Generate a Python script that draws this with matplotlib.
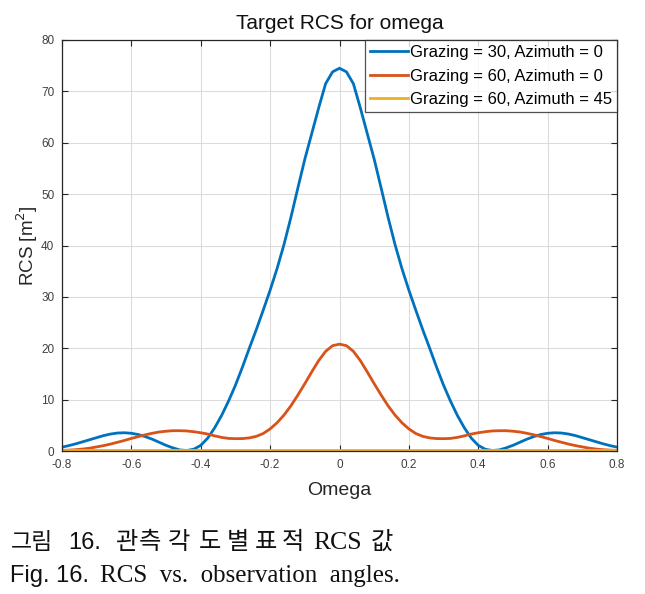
import matplotlib
matplotlib.use("Agg")
import matplotlib.pyplot as plt

# ---- data ----
omega = [-0.80, -0.78, -0.76, -0.74, -0.72, -0.70, -0.68, -0.66, -0.64, -0.62,
         -0.60, -0.58, -0.56, -0.54, -0.52, -0.50, -0.48, -0.46, -0.44, -0.42,
         -0.40, -0.38, -0.36, -0.34, -0.32, -0.30, -0.28, -0.26, -0.24, -0.22,
         -0.20, -0.18, -0.16, -0.14, -0.12, -0.10, -0.08, -0.06, -0.04, -0.02,
         0.00, 0.02, 0.04, 0.06, 0.08, 0.10, 0.12, 0.14, 0.16, 0.18,
         0.20, 0.22, 0.24, 0.26, 0.28, 0.30, 0.32, 0.34, 0.36, 0.38,
         0.40, 0.42, 0.44, 0.46, 0.48, 0.50, 0.52, 0.54, 0.56, 0.58,
         0.60, 0.62, 0.64, 0.66, 0.68, 0.70, 0.72, 0.74, 0.76, 0.78, 0.80]

rcs_g30_a0 = [0.75, 1.05, 1.4, 1.8, 2.2, 2.6, 3.0, 3.3, 3.5, 3.55,
              3.45, 3.2, 2.8, 2.3, 1.7, 1.1, 0.6, 0.2, 0.1, 0.35,
              1.1, 2.5, 4.5, 6.9, 9.7, 12.8, 16.3, 20.0, 23.6, 27.4,
              31.3, 35.5, 40.2, 45.5, 51.2, 56.8, 61.8, 66.8, 71.5, 73.8,
              74.5, 73.8, 71.5, 66.8, 61.8, 56.8, 51.2, 45.5, 40.2, 35.5,
              31.3, 27.4, 23.6, 20.0, 16.3, 12.8, 9.7, 6.9, 4.5, 2.5,
              1.1, 0.35, 0.1, 0.2, 0.6, 1.1, 1.7, 2.3, 2.8, 3.2,
              3.45, 3.55, 3.5, 3.3, 3.0, 2.6, 2.2, 1.8, 1.4, 1.05, 0.75]

rcs_g60_a0 = [0.12, 0.17, 0.25, 0.38, 0.55, 0.8, 1.05, 1.35, 1.7, 2.05,
              2.45, 2.8, 3.15, 3.45, 3.7, 3.85, 3.95, 3.95, 3.9, 3.75,
              3.55, 3.3, 2.95, 2.65, 2.45, 2.4, 2.42, 2.55, 2.85, 3.4,
              4.3, 5.5, 7.0, 8.8, 10.9, 13.1, 15.4, 17.6, 19.4, 20.5,
              20.8, 20.5, 19.4, 17.6, 15.4, 13.1, 10.9, 8.8, 7.0, 5.5,
              4.3, 3.4, 2.85, 2.55, 2.42, 2.4, 2.45, 2.65, 2.95, 3.3,
              3.55, 3.75, 3.9, 3.95, 3.95, 3.85, 3.7, 3.45, 3.15, 2.8,
              2.45, 2.05, 1.7, 1.35, 1.05, 0.8, 0.55, 0.38, 0.25, 0.17, 0.12]

rcs_g60_a45 = [0.2, 0.2, 0.2, 0.2, 0.2, 0.2, 0.2, 0.2, 0.2, 0.2,
               0.2, 0.2, 0.2, 0.2, 0.2, 0.2, 0.2, 0.2, 0.2, 0.2,
               0.2, 0.2, 0.2, 0.2, 0.2, 0.2, 0.2, 0.2, 0.2, 0.2,
               0.2, 0.2, 0.2, 0.2, 0.2, 0.2, 0.2, 0.2, 0.2, 0.2,
               0.2, 0.2, 0.2, 0.2, 0.2, 0.2, 0.2, 0.2, 0.2, 0.2,
               0.2, 0.2, 0.2, 0.2, 0.2, 0.2, 0.2, 0.2, 0.2, 0.2,
               0.2, 0.2, 0.2, 0.2, 0.2, 0.2, 0.2, 0.2, 0.2, 0.2,
               0.2, 0.2, 0.2, 0.2, 0.2, 0.2, 0.2, 0.2, 0.2, 0.2, 0.2]

labels = ["Grazing = 30, Azimuth = 0",
          "Grazing = 60, Azimuth = 0",
          "Grazing = 60, Azimuth = 45"]
colors = ["#0072BD", "#D95319", "#EDB120"]

xticks = [-0.8, -0.6, -0.4, -0.2, 0, 0.2, 0.4, 0.6, 0.8]
xticklabels = ["-0.8", "-0.6", "-0.4", "-0.2", "0", "0.2", "0.4", "0.6", "0.8"]
yticks = [0, 10, 20, 30, 40, 50, 60, 70, 80]

# ---- figure ----
plt.rcParams['font.family'] = ['Liberation Sans', 'DejaVu Sans']
W, H = 645, 594
fig = plt.figure(figsize=(W / 100, H / 100), dpi=100)
ax = fig.add_axes([62 / W, 1 - 451 / H, (617 - 62) / W, (451 - 40) / H])

for ys, lab, c in zip([rcs_g30_a0, rcs_g60_a0, rcs_g60_a45], labels, colors):
    ax.plot(omega, ys, color=c, lw=2.0, label=lab)

ax.set_xlim(-0.8, 0.8)
ax.set_ylim(0, 80)
ax.set_xticks(xticks)
ax.set_xticklabels(xticklabels)
ax.set_yticks(yticks)

axis_col = '#262626'
ax.grid(True, color='#dcdcdc', lw=0.8)
ax.set_axisbelow(True)
ax.tick_params(direction='in', top=True, right=True, length=4, width=0.8,
               colors=axis_col, labelsize=8.5, labelcolor='#404040', pad=5.5)
for s in ax.spines.values():
    s.set_color(axis_col)
    s.set_linewidth(0.9)

ax.set_title("Target RCS for omega", fontsize=15, color='#111111', pad=8)
ax.set_xlabel("Omega", fontsize=14, color='#262626', labelpad=8)
ax.set_ylabel("RCS [m$^2$]", fontsize=13.5, color='#262626')
ax.yaxis.set_label_coords(-0.040, 0.5)

leg = ax.legend(loc='upper right', bbox_to_anchor=(1.0, 1.0), borderaxespad=0,
                fontsize=12, frameon=True, fancybox=False, edgecolor='#262626',
                handlelength=2.3, handletextpad=0.12, borderpad=0.3, labelspacing=0.52)
leg.get_frame().set_linewidth(0.9)

# ---- caption ----
kr = ['Noto Sans CJK KR']
serif = ['Liberation Serif', 'Noto Sans CJK KR']
y1 = 1 - 549 / H
y2 = 1 - 582 / H
cap = '#111111'
fig.text(11 / W, y1, "그림", fontsize=16.5, family=kr, va='baseline', ha='left', color=cap)
caption1_kr = [("관", 116), ("측", 139), ("각", 168), ("도", 199),
               ("별", 227), ("표", 255), ("적", 282), ("값", 371)]
for ch, x in caption1_kr:
    fig.text(x / W, y1, ch, fontsize=17.5, family=kr, va='baseline', ha='left', color=cap)
fig.text(68 / W, y1, "16.", fontsize=17, family=['Liberation Sans'],
         va='baseline', ha='left', color=cap)
fig.text(313 / W, y1, "RCS", fontsize=18.5, family=serif, va='baseline', ha='left', color=cap)

fig.text(10 / W, y2, "Fig. 16.", fontsize=17, family=['Liberation Sans'],
         va='baseline', ha='left', color=cap)
fig.text(100 / W, y2, "RCS  vs.  observation  angles.", fontsize=18,
         family=['Liberation Serif'], va='baseline', ha='left', color=cap)

fig.savefig("out.png", dpi=100)
